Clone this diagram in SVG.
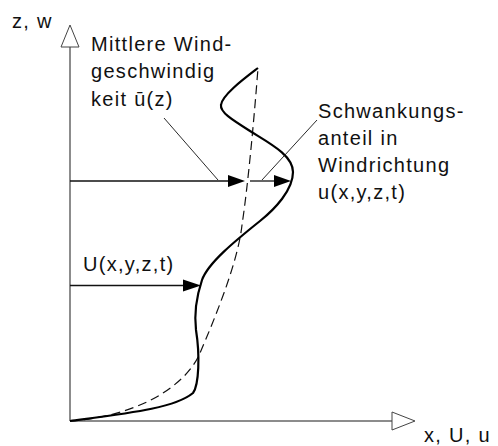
<svg xmlns="http://www.w3.org/2000/svg" width="498" height="446" viewBox="0 0 498 446">
<defs>
<style>
.t{font-family:"Liberation Sans",Arial,sans-serif;font-size:20px;letter-spacing:1.3px;fill:#111}
.ax{stroke:#666;stroke-width:1.5;fill:none}
.axh{stroke:#444;stroke-width:1;fill:#fff}
.arr{stroke:#111;stroke-width:1.3;fill:none}
.head{fill:#000;stroke:none}
.lead{stroke:#111;stroke-width:0.9;fill:none}
.mean{stroke:#111;stroke-width:1.2;fill:none;stroke-dasharray:9,5}
.inst{stroke:#000;stroke-width:2.2;fill:none}
</style>
</defs>
<rect width="498" height="446" fill="#fff"/>
<g id="axes">
<line class="ax" x1="70" y1="421" x2="70" y2="47"/>
<line class="ax" x1="70" y1="421" x2="392" y2="421"/>
<polygon class="axh" points="70,25 61,47 79,47"/>
<polygon class="axh" points="415,421 392,412 392,430"/>
<text class="t" x="12" y="28">z, w</text>
<text class="t" x="424" y="442">x, U, u</text>
</g>
<g id="curves">
<path id="mean-profile" class="mean" d="M70,421 C150,415 190,378 200,353 C215,318 238,262 242,225 C248,185 254,120 258,68"/>
<path id="inst-profile" class="inst" d="M70,421 C130,413 175,408 193,393 C199,385 200,355 196,330 C194,313 197,295 202,280 C208,263 235,241 260,221 C275,209 293,190 293,172 C293,155 269,143 250,131 C231,119 220,112 221,105 C222,95 245,78 258,68"/>
</g>
<g id="connectors">
<line class="arr" x1="70" y1="181" x2="229" y2="181"/>
<polygon class="head" points="245,181 228,175 228,187"/>
<line class="arr" x1="250" y1="181" x2="275" y2="181"/>
<polygon class="head" points="291,181 274,175 274,187"/>
<line class="arr" x1="70" y1="285.5" x2="184" y2="285.5"/>
<polygon class="head" points="201,285.5 183,279.5 183,291.5"/>
<line class="lead" x1="164" y1="118" x2="218" y2="180"/>
<line class="lead" x1="317" y1="120" x2="262" y2="180"/>
</g>
<g id="label-mean">
<text class="t" x="91" y="51">Mittlere Wind-</text>
<text class="t" x="91" y="78">geschwindig</text>
<text class="t" x="91" y="106">keit ū(z)</text>
</g>
<g id="label-fluct">
<text class="t" x="318" y="118">Schwankungs-</text>
<text class="t" x="318" y="145">anteil in</text>
<text class="t" x="318" y="172">Windrichtung</text>
<text class="t" x="318" y="199">u(x,y,z,t)</text>
</g>
<g id="label-inst">
<text class="t" x="83" y="271">U(x,y,z,t)</text>
</g>
</svg>
